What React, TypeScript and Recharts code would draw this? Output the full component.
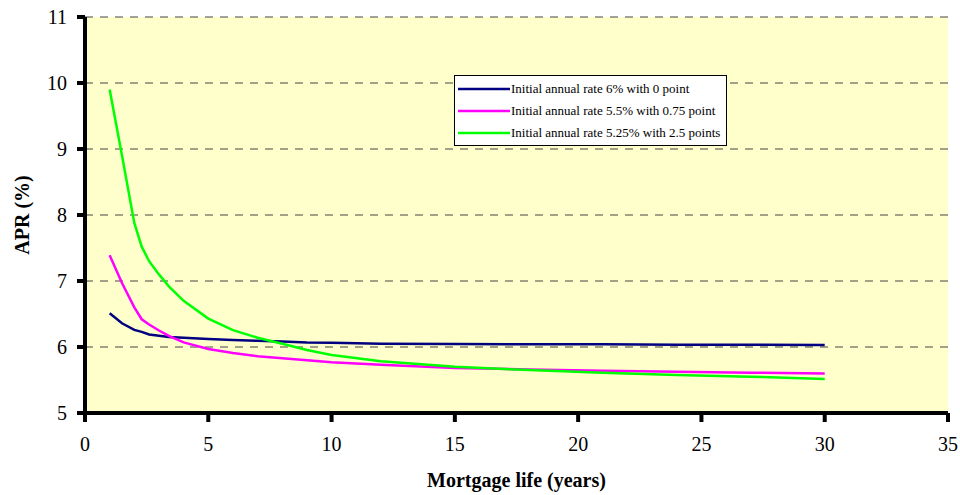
import React from 'react';
import { LineChart, Line, XAxis, YAxis, CartesianGrid, Legend, Label } from 'recharts';

const years = [1, 1.5, 2, 2.3, 2.6, 3, 3.4, 4, 5, 6, 7, 8, 9, 10, 12, 15, 18, 21, 24, 27, 30];
const blueApr = [6.51, 6.36, 6.26, 6.23, 6.19, 6.17, 6.15, 6.14, 6.12, 6.105, 6.095, 6.085, 6.07, 6.065, 6.05, 6.045, 6.04, 6.04, 6.035, 6.035, 6.03];
const magentaApr = [7.39, 6.97, 6.6, 6.42, 6.34, 6.25, 6.17, 6.07, 5.97, 5.91, 5.86, 5.83, 5.8, 5.77, 5.73, 5.68, 5.66, 5.64, 5.625, 5.61, 5.6];
const greenApr = [9.9, 8.9, 7.88, 7.52, 7.3, 7.1, 6.92, 6.7, 6.43, 6.255, 6.14, 6.05, 5.955, 5.88, 5.785, 5.7, 5.65, 5.61, 5.575, 5.55, 5.515];

const seriesNames = [
  'Initial annual rate 6% with 0 point',
  'Initial annual rate 5.5% with 0.75 point',
  'Initial annual rate 5.25% with 2.5 points',
];
const xTicks = [0, 5, 10, 15, 20, 25, 30, 35];
const yTicks = [5, 6, 7, 8, 9, 10, 11];

const data = years.map((y, i) => ({
  year: y,
  blue: blueApr[i],
  magenta: magentaApr[i],
  green: greenApr[i],
}));

const FONT = '"Liberation Serif", "Times New Roman", Times, serif';

const renderLegend = (props: any) => {
  const payload = [...(props.payload || [])].sort(
    (a: any, b: any) => seriesNames.indexOf(a.value) - seriesNames.indexOf(b.value)
  );
  return (
    <div
      style={{
        boxSizing: 'border-box',
        width: 273,
        height: 71,
        background: '#fff',
        border: '1px solid #000',
        fontFamily: FONT,
        fontSize: 13,
        color: '#000',
        paddingTop: 2,
      }}
    >
      {payload.map((entry: any, i: number) => (
        <div key={i} style={{ display: 'flex', alignItems: 'center', height: 22 }}>
          <svg width={56} height={6} style={{ marginLeft: 3, flex: 'none' }}>
            <line x1={0} y1={3} x2={52} y2={3} stroke={entry.color} strokeWidth={2.5} />
          </svg>
          <span style={{ marginLeft: -3, whiteSpace: 'nowrap' }}>{entry.value}</span>
        </div>
      ))}
    </div>
  );
};

export default function App() {
  return (
    <div style={{ width: 960, height: 495 }}>
      <style>{'html, body { margin: 0; padding: 0; }'}</style>
      <LineChart
        width={960}
        height={495}
        data={data}
        margin={{ top: 17, right: 12, bottom: 0, left: 0 }}
        style={{ fontFamily: FONT }}
      >
        <CartesianGrid
          horizontal={true}
          vertical={false}
          stroke="#444"
          strokeDasharray="8 7"
          fill="#FFFFCC"
          fillOpacity={1}
        />
        <XAxis
          dataKey="year"
          type="number"
          domain={[0, 35]}
          ticks={xTicks}
          interval={0}
          height={82}
          axisLine={{ stroke: '#000', strokeWidth: 4 }}
          tickLine={{ stroke: '#000', strokeWidth: 4 }}
          tickSize={9}
          tickMargin={15}
          tick={{ fill: '#000', fontSize: 20, fontFamily: FONT }}
        >
          <Label
            value="Mortgage life (years)"
            position="insideBottom"
            offset={8}
            style={{ fontFamily: FONT, fontSize: 20, fontWeight: 'bold', fill: '#000' }}
          />
        </XAxis>
        <YAxis
          type="number"
          domain={[5, 11]}
          ticks={yTicks}
          interval={0}
          width={85}
          axisLine={{ stroke: '#000', strokeWidth: 4 }}
          tickLine={{ stroke: '#000', strokeWidth: 4 }}
          tickSize={8}
          tickMargin={10}
          tick={{ fill: '#000', fontSize: 20, fontFamily: FONT }}
        >
          <Label
            value="APR (%)"
            angle={-90}
            position="insideLeft"
            offset={22}
            style={{ textAnchor: 'middle', fontFamily: FONT, fontSize: 20, fontWeight: 'bold', fill: '#000' }}
          />
        </YAxis>
        <Legend
          layout="vertical"
          align="center"
          verticalAlign="middle"
          content={renderLegend}
          wrapperStyle={{ left: 454, top: 75, width: 273, height: 71 }}
        />
        <Line type="linear" dataKey="blue" name={seriesNames[0]} stroke="#000080" strokeWidth={2.5} dot={false} isAnimationActive={false} />
        <Line type="linear" dataKey="magenta" name={seriesNames[1]} stroke="#FF00FF" strokeWidth={2.5} dot={false} isAnimationActive={false} />
        <Line type="linear" dataKey="green" name={seriesNames[2]} stroke="#00FF00" strokeWidth={2.5} dot={false} isAnimationActive={false} />
      </LineChart>
    </div>
  );
}
